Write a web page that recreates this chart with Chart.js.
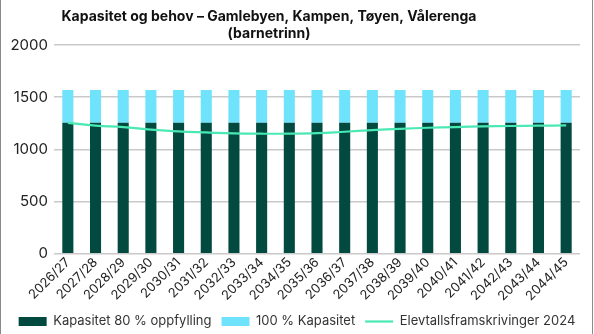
<!DOCTYPE html>
<html>
<head>
<meta charset="utf-8">
<script src="https://cdn.jsdelivr.net/npm/chart.js@4"></script>
<style>
  body { margin: 0; background: #fff; }
  #wrap { position: relative; width: 594px; height: 334px; }
  #wrap .edge { position: absolute; top: 0; bottom: 0; width: 1px; background: #8a8a8a; }
</style>
</head>
<body>
<div id="wrap">
  <canvas id="chart" width="594" height="334"></canvas>
  <div class="edge" style="left:0"></div>
  <div class="edge" style="left:592px"></div>
</div>
<script>
'use strict';

const years = ['2026/27', '2027/28', '2028/29', '2029/30', '2030/31', '2031/32', '2032/33',
  '2033/34', '2034/35', '2035/36', '2036/37', '2037/38', '2038/39', '2039/40', '2040/41',
  '2041/42', '2042/43', '2043/44', '2044/45'];

// kapasitet ved 80 % oppfylling, og resten opp til 100 %
const cap80 = [1254, 1254, 1254, 1254, 1254, 1254, 1254, 1254, 1254, 1254,
  1254, 1254, 1254, 1254, 1254, 1254, 1254, 1254, 1254];
const cap100rest = [314, 314, 314, 314, 314, 314, 314, 314, 314, 314,
  314, 314, 314, 314, 314, 314, 314, 314, 314];

// elevtallsframskrivinger 2024
const pupils = [1254, 1228, 1214, 1190, 1172, 1162, 1153, 1150, 1150, 1155,
  1169, 1184, 1197, 1207, 1214, 1220, 1224, 1227, 1230];

const yTicks = [0, 500, 1000, 1500, 2000];

const titleLines = ['Kapasitet og behov – Gamlebyen, Kampen, Tøyen, Vålerenga', '(barnetrinn)'];

Chart.defaults.font.family = 'Inter, "Noto Sans", sans-serif';
Chart.defaults.color = '#222';

// tittel sentrert litt til venstre, som i originalen
const titlePlugin = {
  id: 'leftTitle',
  afterDraw(chart) {
    const c = chart.ctx;
    c.save();
    c.font = 'bold 14px Inter, "Noto Sans", sans-serif';
    c.fillStyle = '#111';
    c.textAlign = 'center';
    c.textBaseline = 'middle';
    c.fillText(titleLines[0], 269, 17);
    c.fillText(titleLines[1], 269, 34);
    c.restore();
  }
};

new Chart(document.getElementById('chart'), {
  data: {
    labels: years,
    datasets: [
      {
        type: 'bar',
        label: 'Kapasitet 80 % oppfylling',
        data: cap80,
        backgroundColor: '#024a3f',
        borderWidth: 0,
        categoryPercentage: 1,
        barPercentage: 0.4,
        order: 1
      },
      {
        type: 'bar',
        label: '100 % Kapasitet',
        data: cap100rest,
        backgroundColor: '#6fe3fc',
        borderWidth: 0,
        categoryPercentage: 1,
        barPercentage: 0.4,
        order: 2
      },
      {
        type: 'line',
        label: 'Elevtallsframskrivinger 2024',
        data: pupils,
        borderColor: '#4ae8b3',
        backgroundColor: '#4ae8b3',
        borderWidth: 2.2,
        pointRadius: 0,
        tension: 0.4,
        order: 0
      }
    ]
  },
  options: {
    responsive: false,
    animation: false,
    layout: { padding: { top: 45, right: 0, left: 0, bottom: -4 } },
    scales: {
      x: {
        stacked: true,
        grid: { display: false, drawTicks: false },
        border: { display: false },
        ticks: {
          maxRotation: 45,
          minRotation: 45,
          padding: 1,
          font: { size: 13 },
          color: '#222'
        }
      },
      y: {
        stacked: true,
        min: 0,
        max: 2000,
        afterBuildTicks: axis => { axis.ticks = yTicks.map(v => ({ value: v })); },
        afterFit: axis => { axis.width = 54; },
        grid: { color: '#c9c9c9', lineWidth: 1.5, drawTicks: false },
        border: { display: false },
        ticks: {
          padding: 6,
          font: { size: 15 },
          color: '#222',
          callback: v => String(v)
        }
      },
      // tom akse til høyre, bare for luft
      yRight: {
        position: 'right',
        grid: { display: false },
        border: { display: false },
        ticks: { display: false },
        afterFit: axis => { axis.width = 14; }
      }
    },
    plugins: {
      legend: {
        position: 'bottom',
        labels: {
          usePointStyle: true,
          pointStyleWidth: 28,
          boxHeight: 9,
          padding: 10,
          font: { size: 13 },
          color: '#333',
          sort: (a, b) => a.datasetIndex - b.datasetIndex,
          generateLabels: chart =>
            Chart.defaults.plugins.legend.labels.generateLabels(chart).map(l => ({
              ...l,
              pointStyle: l.datasetIndex === 2 ? 'line' : 'rect'
            }))
        }
      },
      tooltip: { enabled: false }
    }
  },
  plugins: [titlePlugin]
});
</script>
</body>
</html>
